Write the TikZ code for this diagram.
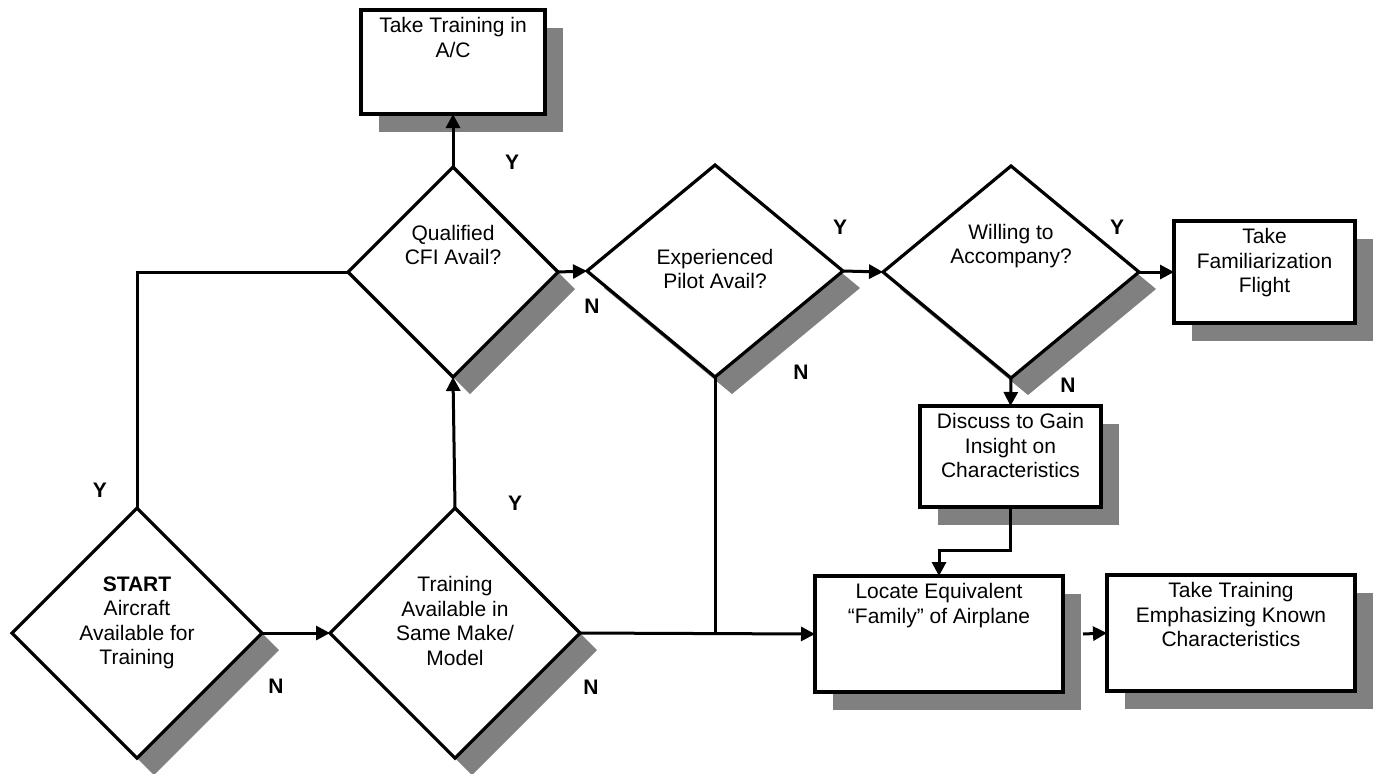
\documentclass[tikz,border=0pt]{standalone}
\usepackage{fontspec}
\setmainfont{Liberation Sans}
\usetikzlibrary{arrows.meta, shapes.geometric, shadows}

\begin{document}
\begin{tikzpicture}[
            x = 0.5pt, y = -0.5pt, % one unit is one pixel of the sketch
            > = {Triangle[length=7pt, width=7pt]}, % arrow head style
            font = \fontsize{10.5}{12.2}\selectfont,
            line width = 1.5pt % line style
        ]

        \tikzstyle{decision}=[
            diamond,
            draw = black,
            fill = white,
            line width = 1.6pt,
            inner sep = 0pt,
            outer sep = 0pt,
            drop shadow = {shadow xshift=8.5pt, shadow yshift=-8.5pt, fill=black!50, opacity=1}
        ]
        \tikzstyle{block}=[
            rectangle,
            draw = black,
            fill = white,
            line width = 2pt,
            inner sep = 0pt,
            outer sep = 0pt,
            drop shadow = {shadow xshift=9pt, shadow yshift=-9pt, fill=black!50, opacity=1}
        ]
        \tikzstyle{txt}=[align=center, inner sep=3pt]
        \tikzstyle{answer}=[font=\fontsize{10.5}{12.2}\selectfont\bfseries]

        \useasboundingbox (0,0) rectangle (1380,773);

        % decisions
        \node[decision, minimum width=125pt, minimum height=125pt,
              label={[txt, anchor=center, yshift=5pt]center:{\textbf{START}\\Aircraft\\Available for\\Training}}] (start) at (137,633) {};
        \node[decision, minimum width=125pt, minimum height=125pt,
              label={[txt, anchor=center, yshift=6pt]center:{Training\\Available in\\Same Make/\\Model}}] (train) at (455,633) {};
        \node[decision, minimum width=105pt, minimum height=105pt,
              label={[txt, anchor=center, yshift=13.5pt]center:{Qualified\\CFI Avail?}}] (qcfi) at (453,272) {};
        \node[decision, minimum width=128pt, minimum height=106pt,
              label={[txt, anchor=center, yshift=1pt]center:{Experienced\\Pilot Avail?}}] (pilot) at (715,271) {};
        \node[decision, minimum width=128pt, minimum height=106pt,
              label={[txt, anchor=center, yshift=13pt]center:{Willing to\\Accompany?}}] (willing) at (1011,272) {};

        % actions
        \node[block, minimum width=92pt, minimum height=52pt,
              label={[txt, anchor=north]north:{Take Training in\\A/C}}] (inac) at (453,62) {};
        \node[block, minimum width=90.5pt, minimum height=51pt,
              label={[txt, anchor=north]north:{Take\\Familiarization\\Flight}}] (famflight) at (1264.5,272) {};
        \node[block, minimum width=90.5pt, minimum height=50.5pt,
              label={[txt, anchor=north]north:{Discuss to Gain\\Insight on\\Characteristics}}] (discuss) at (1010.5,456.5) {};
        \node[block, minimum width=124pt, minimum height=58pt,
              label={[txt, anchor=north]north:{Locate Equivalent\\``Family'' of Airplane}}] (locate) at (939,634) {};
        \node[block, minimum width=124pt, minimum height=58pt,
              label={[txt, anchor=north]north:{Take Training\\Emphasizing Known\\Characteristics}}] (emphasize) at (1231,633) {};

        % start paths
        \draw (start.north) |- (qcfi.west);
        \draw[->] (start.east) -- (train.west);

        % training paths
        \draw[->] (train.north) -- (qcfi.south);
        \draw[->] (train.east) -- (locate.west);

        % CFI paths
        \draw[->] (qcfi.north) -- (inac.south);
        \draw[->] (qcfi.east) -- (pilot.west);

        % pilot paths
        \draw[->] (pilot.east) -- (willing.west);
        \draw (pilot.south) -- (pilot.south |- train.east);

        % accompany paths
        \draw[->] (willing.east) -- (famflight.west);
        \draw[->] (willing.south) -- (discuss.north);
        \draw[->] (discuss.south) -- ++(0,43) -| (locate.north);
        \draw[->] ([xshift=10pt]locate.east) -- (emphasize.west);

        % answers
        \node[answer] (ystart) at (100,490) {Y};
        \node[answer] (nstart) at (276,686) {N};
        \node[answer] (ytrain) at (515,503) {Y};
        \node[answer] (ntrain) at (591,687) {N};
        \node[answer] (yqcfi) at (512,162) {Y};
        \node[answer] (nqcfi) at (592,306) {N};
        \node[answer] (ypilot) at (840,227) {Y};
        \node[answer] (npilot) at (801,372) {N};
        \node[answer] (ywilling) at (1117,227) {Y};
        \node[answer] (nwilling) at (1068,385) {N};

    \end{tikzpicture}
\end{document}
